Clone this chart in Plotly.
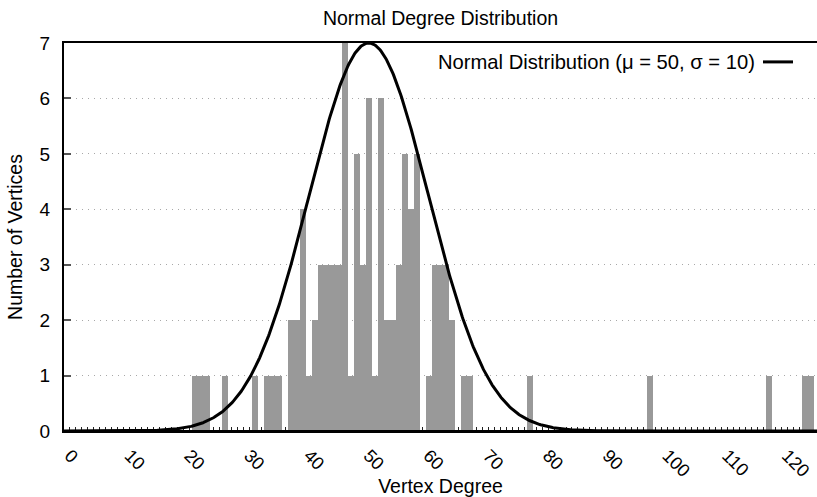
import numpy as np
import plotly.graph_objects as go

# ---- data ----
degrees = [21, 22, 23, 26, 31, 33, 34, 35, 37, 38, 39, 40, 41, 42, 43, 44, 45,
           46, 47, 48, 49, 50, 51, 52, 53, 54, 55, 56, 57, 58, 60, 61, 62, 63,
           64, 66, 67, 77, 97, 117, 123, 124]
counts = [1, 1, 1, 1, 1, 1, 1, 1, 2, 2, 4, 1, 2, 3, 3, 3, 3,
          7, 1, 5, 3, 6, 1, 6, 2, 2, 3, 5, 4, 5, 1, 3, 3, 3,
          2, 1, 1, 1, 1, 1, 1, 1]
mu = 50
sigma = 10
curve_peak = 7
x_tick_vals = list(range(0, 121, 10))
y_tick_vals = list(range(0, 8))

title_text = "Normal Degree Distribution"
x_title = "Vertex Degree"
y_title = "Number of Vertices"
legend_text = "Normal Distribution (\u03bc = 50, \u03c3 = 10)"

FONT = "Liberation Sans, Arial, Helvetica, sans-serif"

cx = np.linspace(-1, 125, 1009)
cy = curve_peak * np.exp(-((cx - mu) ** 2) / (2 * sigma ** 2))

fig = go.Figure()
fig.add_trace(go.Bar(x=degrees, y=counts, width=1.0,
                     marker=dict(color="#999999", line=dict(width=0)),
                     showlegend=False))
fig.add_trace(go.Scatter(x=cx, y=cy, mode="lines",
                         line=dict(color="black", width=3),
                         showlegend=False))

W, H = 817, 497
L, R, T, B = 64, 0, 43, 64
pw = W - L - R
ph = H - T - B

fig.update_layout(
    width=W, height=H,
    margin=dict(l=L, r=R, t=T, b=B),
    paper_bgcolor="white", plot_bgcolor="white",
    bargap=0,
    font=dict(family=FONT, size=19, color="black"),
    title=dict(text=title_text, x=(L + pw / 2) / W, xanchor="center",
               y=1 - 18 / H, yanchor="middle", yref="container",
               font=dict(size=19.5)),
    xaxis=dict(range=[-1, 125], tickvals=x_tick_vals,
               ticktext=[str(v) for v in x_tick_vals],
               tickangle=45, ticks="inside", ticklen=4, tickcolor="#222222",
               tickfont=dict(size=18),
               minor=dict(dtick=1, tick0=0, ticks="inside", ticklen=4,
                          tickcolor="#222222", tickwidth=1, showgrid=False),
               showline=True, linecolor="black", linewidth=2, mirror=True,
               showgrid=False, zeroline=False, layer="below traces",
               title=dict(text=x_title, font=dict(size=19.5), standoff=2),
               ticklabelstandoff=5),
    yaxis=dict(range=[0, 7], tickvals=y_tick_vals,
               ticks="inside", ticklen=7, tickcolor="#555555", tickwidth=1.5,
               showline=True, linecolor="black", linewidth=2, mirror=False,
               showgrid=True, gridcolor="#a8a8a8", griddash="1px,5px",
               gridwidth=1,
               zeroline=False, layer="below traces",
               title=dict(text=y_title, font=dict(size=19.5), standoff=12),
               ticklabelstandoff=8),
)

# bottom axis line kept above the bars
fig.add_shape(type="line", xref="paper", yref="y", x0=0, x1=1, y0=0, y1=0,
              line=dict(color="black", width=2), layer="above")

# legend (gnuplot style: text then line sample on the right)
ly = 1 - (62 - T) / ph
fig.add_annotation(text=legend_text, xref="paper", yref="paper",
                   x=(757 - L) / pw, y=ly, xanchor="right", yanchor="middle",
                   showarrow=False, font=dict(size=20.2))
fig.add_shape(type="line", xref="paper", yref="paper",
              x0=(763 - L) / pw, x1=(793 - L) / pw, y0=ly, y1=ly,
              line=dict(color="black", width=3), layer="above")

fig.write_html("out.html")
